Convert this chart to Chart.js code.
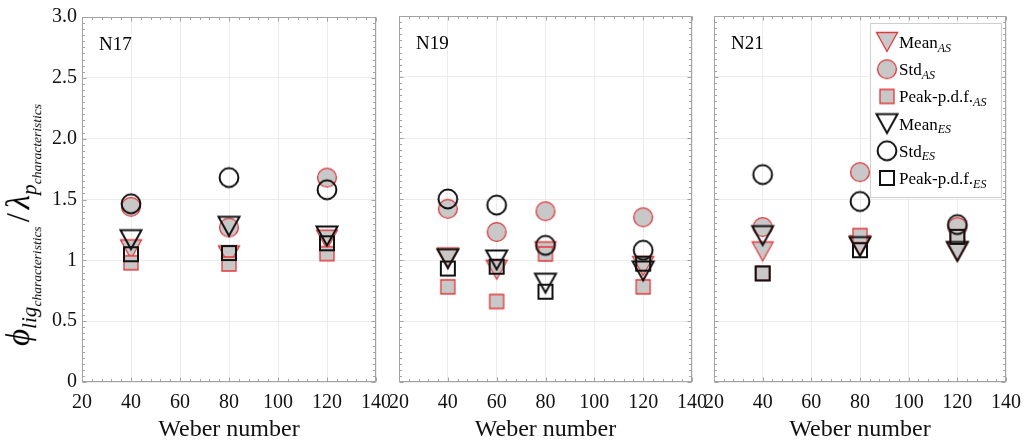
<!DOCTYPE html>
<html>
<head>
<meta charset="utf-8">
<script src="https://cdn.jsdelivr.net/npm/chart.js@4.4.1/dist/chart.umd.min.js"></script>
<style>
  body { margin: 0; background: #fff; }
  #wrap { position: relative; width: 1030px; height: 444px; }
  #wrap canvas { position: absolute; left: 0; top: 0; width: 1030px; height: 444px; }
  #ylab {
    position: absolute; left: 23px; top: 225px;
    transform: translate(-50%, -50%) rotate(-90deg);
    font-family: "Liberation Serif", serif; font-size: 33px; line-height: 1;
    white-space: nowrap; color: #000;
  }
  #ylab i { font-style: italic; }
  #ylab sub { font-size: 0.64em; vertical-align: -0.35em; }
  #ylab .sl { margin: 0 4px; }
</style>
</head>
<body>
<div id="wrap">
  <canvas id="p0" width="1030" height="444"></canvas>
  <canvas id="p1" width="1030" height="444"></canvas>
  <canvas id="p2" width="1030" height="444"></canvas>
  <div id="ylab"><i>ϕ</i><sub><i>lig</i><sub><i>characteristics</i></sub></sub><span class="sl">/</span><i>λ</i><sub><i>p</i><sub><i>characteristics</i></sub></sub></div>
</div>
<script>
// one entry per panel
const panelNames = ['N17', 'N19', 'N21'];
const weber = [[40, 80, 120], [40, 60, 80, 120], [40, 80, 120]];

const meanAS = [[1.09, 1.04, 1.17], [1.02, 0.92, 1.07, 0.95], [1.07, 1.12, 1.07]];
const stdAS  = [[1.44, 1.27, 1.68], [1.42, 1.23, 1.40, 1.35], [1.27, 1.72, 1.27]];
const peakAS = [[0.98, 0.97, 1.055], [0.78, 0.66, 1.05, 0.78], [0.89, 1.20, 1.19]];
const meanES = [[1.17, 1.28, 1.20], [1.01, 1.00, 0.81, 0.91], [1.20, 1.11, 1.07]];
const stdES  = [[1.465, 1.68, 1.58], [1.50, 1.45, 1.12, 1.08], [1.70, 1.48, 1.29]];
const peakES = [[1.05, 1.06, 1.14], [0.93, 0.945, 0.74, 0.97], [0.89, 1.08, 1.19]];

const yTickLabels = ['0', '0.5', '1', '1.5', '2.0', '2.5', '3.0'];

const asFill = '#c8c8c8';
const asEdge = '#e2383b';
const esEdge = '#111';
const frameColor = '#a3a3a3';
const serif = '"Liberation Serif", "Times New Roman", serif';

// chart area edges of the three panels
const areaLeft = [82, 399, 714];
const areaRight = [376, 692, 1008];

function makeMarker(shape, filled) {
  const c = document.createElement('canvas');
  c.width = 26; c.height = 26;
  const g = c.getContext('2d');
  g.beginPath();
  if (shape === 'tri') {
    g.moveTo(2.5, 3.5); g.lineTo(23.5, 3.5); g.lineTo(13, 22.5); g.closePath();
  } else if (shape === 'circ') {
    g.arc(13, 13, 9.4, 0, Math.PI * 2);
  } else {
    g.rect(6, 6, 14, 14);
  }
  if (filled) {
    g.fillStyle = asFill; g.fill();
    g.strokeStyle = asEdge; g.lineWidth = 1.3;
  } else {
    g.strokeStyle = esEdge; g.lineWidth = 2;
  }
  g.stroke();
  return c;
}

const series = [
  { name: 'Mean', sub: 'AS', vals: meanAS, marker: makeMarker('tri', true), order: 5 },
  { name: 'Std', sub: 'AS', vals: stdAS, marker: makeMarker('circ', true), order: 4 },
  { name: 'Peak-p.d.f.', sub: 'AS', vals: peakAS, marker: makeMarker('sq', true), order: 3 },
  { name: 'Mean', sub: 'ES', vals: meanES, marker: makeMarker('tri', false), order: 2 },
  { name: 'Std', sub: 'ES', vals: stdES, marker: makeMarker('circ', false), order: 1 },
  { name: 'Peak-p.d.f.', sub: 'ES', vals: peakES, marker: makeMarker('sq', false), order: 0 }
];

const frameTicks = {
  id: 'frameTicks',
  beforeDatasetsDraw(chart) {
    const { ctx, chartArea: a, scales: { x, y } } = chart;
    const L = Math.round(a.left) + 0.5, R = Math.round(a.right) - 0.5;
    const T = Math.round(a.top) + 0.5, B = Math.round(a.bottom) - 0.5;
    ctx.save();
    ctx.strokeStyle = frameColor;
    ctx.lineWidth = 1;
    ctx.beginPath();
    for (let v = 20; v <= 140; v += 4) {
      const px = Math.round(x.getPixelForValue(v)) + 0.5;
      const len = v % 20 === 0 ? 4 : 2.5;
      ctx.moveTo(px, B); ctx.lineTo(px, B - len);
      ctx.moveTo(px, T); ctx.lineTo(px, T + len);
    }
    for (let i = 0; i <= 60; i++) {
      const py = Math.round(y.getPixelForValue(i * 0.05)) + 0.5;
      const len = i % 10 === 0 ? 4 : 2.5;
      ctx.moveTo(L, py); ctx.lineTo(L + len, py);
      ctx.moveTo(R, py); ctx.lineTo(R - len, py);
    }
    ctx.stroke();
    ctx.strokeRect(L, T, R - L, B - T);
    ctx.fillStyle = '#000';
    ctx.font = '19px ' + serif;
    ctx.textBaseline = 'middle';
    ctx.textAlign = 'left';
    ctx.fillText(chart.options.plugins.panelName, a.left + 17, a.top + 28);
    ctx.restore();
  }
};

const legendBox = {
  id: 'legendBox',
  afterDraw(chart) {
    if (!chart.options.plugins.showLegend) return;
    const { ctx, chartArea: a } = chart;
    const right = a.right - 5, top = a.top + 7, w = 131, h = 174;
    ctx.save();
    ctx.fillStyle = '#fff';
    ctx.fillRect(right - w, top, w, h);
    ctx.strokeStyle = '#cfcfcf';
    ctx.lineWidth = 1;
    ctx.strokeRect(Math.round(right - w) + 0.5, Math.round(top) + 0.5, w, h);
    series.forEach((s, i) => {
      const cy = top + 19 + i * 27.2;
      const mx = right - w + 17;
      ctx.drawImage(s.marker, mx - 13, cy - 13);
      ctx.fillStyle = '#000';
      ctx.textBaseline = 'alphabetic';
      ctx.textAlign = 'left';
      ctx.font = '17px ' + serif;
      const tx = mx + 12;
      ctx.fillText(s.name, tx, cy + 6);
      const tw = ctx.measureText(s.name).width;
      ctx.font = 'italic 12px ' + serif;
      ctx.fillText(s.sub, tx + tw, cy + 9.5);
    });
    ctx.restore();
  }
};

panelNames.forEach((name, p) => {
  const first = p === 0;
  new Chart(document.getElementById('p' + p), {
    type: 'scatter',
    data: {
      datasets: series.map(s => ({
        label: s.name + s.sub,
        data: weber[p].map((w, i) => ({ x: w, y: s.vals[p][i] })),
        pointStyle: s.marker,
        pointRadius: 10,
        order: s.order
      }))
    },
    options: {
      responsive: false,
      animation: false,
      events: [],
      layout: {
        padding: { left: first ? areaLeft[p] - 40 : areaLeft[p], right: 1030 - areaRight[p], top: 16, bottom: 0 }
      },
      plugins: {
        legend: { display: false },
        tooltip: { enabled: false },
        panelName: name,
        showLegend: p === 2
      },
      scales: {
        x: {
          type: 'linear', min: 20, max: 140,
          ticks: { stepSize: 20, color: '#111', padding: 9, font: { family: serif, size: 20 } },
          grid: { color: '#ececec', drawTicks: false },
          border: { display: false },
          title: { display: true, text: 'Weber number', color: '#111', padding: 0, font: { family: serif, size: 24 } },
          afterFit(s) { s.height = 62; }
        },
        y: {
          min: 0, max: 3,
          ticks: {
            display: first, stepSize: 0.5, color: '#111', padding: 5,
            font: { family: serif, size: 20 },
            callback: (v, i) => yTickLabels[i]
          },
          grid: { color: '#ececec', drawTicks: false },
          border: { display: false },
          afterFit(s) { s.width = first ? 40 : 0; }
        }
      }
    },
    plugins: [frameTicks, legendBox]
  });
});
</script>
</body>
</html>
